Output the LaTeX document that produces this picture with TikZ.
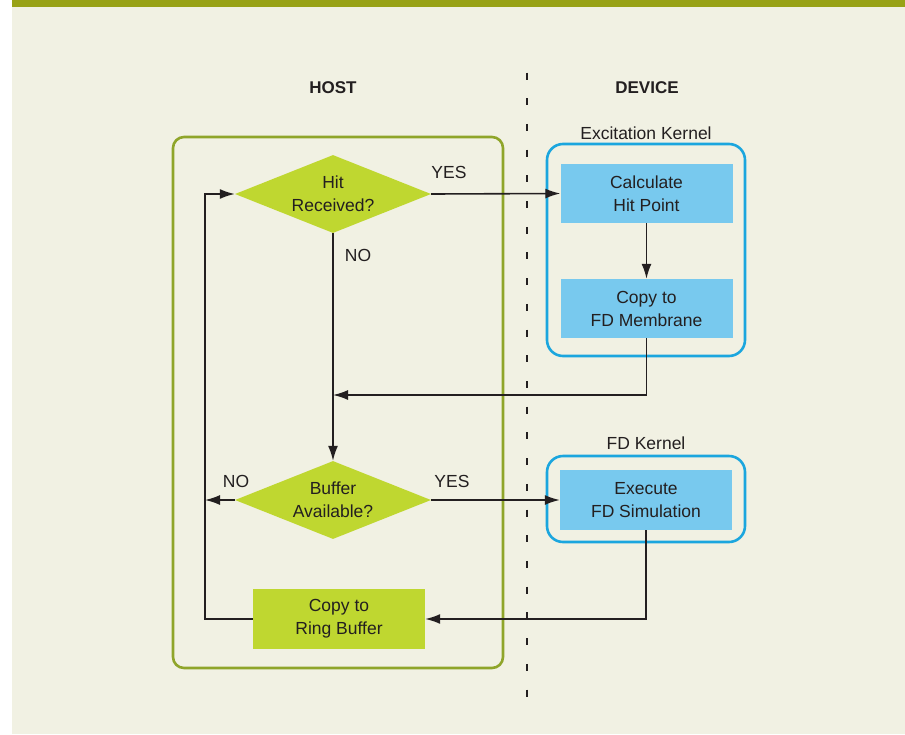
\documentclass[tikz,border=0pt]{standalone}
\usepackage{fontspec}
\setmainfont{Liberation Sans}
\usetikzlibrary{arrows.meta,shapes.geometric}
\definecolor{bgc}{HTML}{F1F1E3}
\definecolor{topbar}{HTML}{98A216}
\definecolor{hostline}{HTML}{8FA52A}
\definecolor{lime}{HTML}{BFD730}
\definecolor{kblue}{HTML}{1BA6DE}
\definecolor{lblue}{HTML}{78C9EE}
\definecolor{ink}{HTML}{231F20}
\tikzset{
  txt/.style={font=\fontsize{17.5}{23}\selectfont, text=ink, align=center},
  dec/.style={txt, diamond, fill=lime, minimum width=196pt, minimum height=78pt, inner sep=0pt, shape aspect=2.5},
  limebox/.style={txt, rectangle, fill=lime, minimum width=172pt, minimum height=60pt, inner sep=0pt},
  bluebox/.style={txt, rectangle, fill=lblue, minimum width=172pt, minimum height=59pt, inner sep=0pt},
  lab/.style={txt, inner sep=0pt},
  head/.style={font=\fontsize{17}{18}\selectfont\bfseries, text=ink, inner sep=0pt},
  arr/.style={draw=ink, line width=1.6pt, -{Latex[length=15pt,width=10pt]}},
  kern/.style={draw=kblue, line width=2.6pt, rounded corners=16pt},
}
\begin{document}
\begin{tikzpicture}[x=1pt,y=-1pt]
\useasboundingbox (0,0) rectangle (905,734);
\fill[white] (0,0) rectangle (905,734);
\fill[bgc] (12,0) rectangle (905,734);
\fill[topbar] (12,0) rectangle (905,7);

% headers
\node[head] (host) at (333,88) {HOST};
\node[head] (device) at (647,88) {DEVICE};

% divider
\draw[ink, line width=2.8pt, dash pattern=on 7pt off 18.71pt] (527,72.5) -- (527,698);

% host frame
\draw[hostline, line width=2.6pt, rounded corners=11pt] (173,137) rectangle (503,668);

% kernel frames
\draw[kern] (547,144) rectangle (745,356);
\draw[kern] (547,456) rectangle (745,542);
\node[lab] (exk) at (646,133) {Excitation Kernel};
\node[lab] (fdk) at (646,443) {FD Kernel};

% nodes
\node[dec] (hit) at (333,194) {Hit\\Received?};
\node[dec] (buf) at (333,500) {Buffer\\Available?};
\node[limebox] (ring) at (339,619) {Copy to\\Ring Buffer};
\node[bluebox] (calc) at (646.5,193.5) {Calculate\\Hit Point};
\node[bluebox] (copy) at (646.5,308.5) {Copy to\\FD Membrane};
\node[bluebox, minimum height=60pt] (exec) at (646,500) {Execute\\FD Simulation};

% labels
\node[lab] (yes1) at (449,172) {YES};
\node[lab] (no1) at (358,255) {NO};
\node[lab] (no2) at (236,481) {NO};
\node[lab] (yes2) at (452,481) {YES};

% coordinates
\coordinate (merge) at (333,395);
\coordinate (loopL) at (205,500);
\coordinate (loopT) at (205,194);

% connectors
\draw[arr] (hit.east) -- (calc.west);
\draw[arr] (calc.south) -- (copy.north);
\draw[arr] (copy.south) |- (merge);
\draw[arr] (hit.south) -- (buf.north);
\draw[arr] (buf.east) -- (exec.west);
\draw[arr] (buf.west) -- (loopL);
\draw[arr] (exec.south) |- (ring.east);
\draw[arr] (ring.west) -| (loopT) -- (hit.west);
\end{tikzpicture}
\end{document}
